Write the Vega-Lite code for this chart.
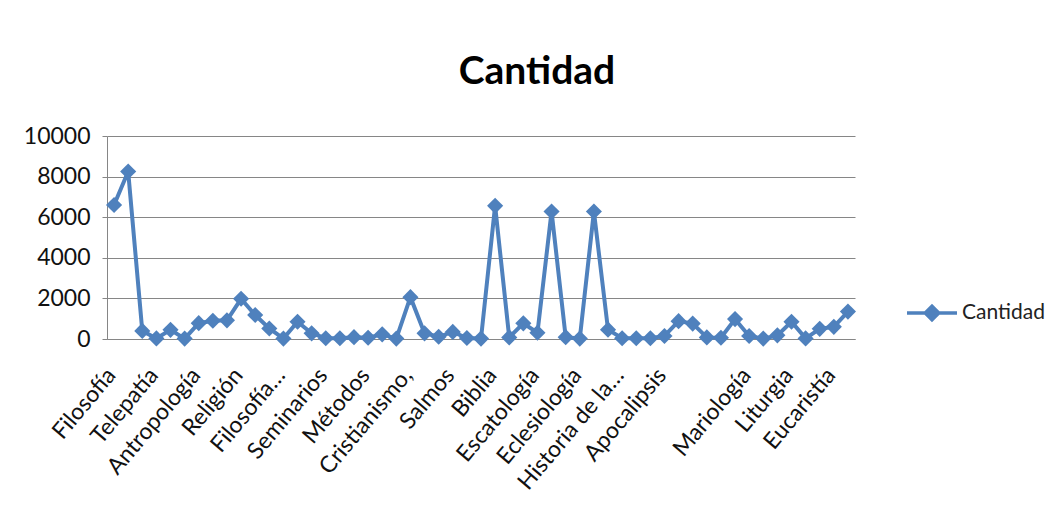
{
  "$schema": "https://vega.github.io/schema/vega-lite/v6.json",
  "width": 748,
  "height": 203,
  "autosize": "none",
  "padding": {"left": 107, "top": 136, "right": 208, "bottom": 173},
  "background": "white",
  "title": {"text": "Cantidad", "fontSize": 39, "font": "Lato", "fontWeight": "bold", "color": "#000000", "anchor": "middle", "dx": 56, "offset": 33},
  "data": {
    "values": [
      {"n": 0, "tema": "Filosofía", "cantidad": 6600},
      {"n": 1, "cantidad": 8250},
      {"n": 2, "cantidad": 400},
      {"n": 3, "tema": "Telepatía", "cantidad": 30},
      {"n": 4, "cantidad": 450},
      {"n": 5, "cantidad": 20},
      {"n": 6, "tema": "Antropología", "cantidad": 780},
      {"n": 7, "cantidad": 900},
      {"n": 8, "cantidad": 920},
      {"n": 9, "tema": "Religión", "cantidad": 1980},
      {"n": 10, "cantidad": 1180},
      {"n": 11, "cantidad": 520},
      {"n": 12, "tema": "Filosofía…", "cantidad": 20},
      {"n": 13, "cantidad": 850},
      {"n": 14, "cantidad": 280},
      {"n": 15, "tema": "Seminarios", "cantidad": 40},
      {"n": 16, "cantidad": 40},
      {"n": 17, "cantidad": 90},
      {"n": 18, "tema": "Métodos", "cantidad": 60},
      {"n": 19, "cantidad": 230},
      {"n": 20, "cantidad": 20},
      {"n": 21, "tema": "Cristianismo,", "cantidad": 2060},
      {"n": 22, "cantidad": 280},
      {"n": 23, "cantidad": 110},
      {"n": 24, "tema": "Salmos", "cantidad": 350},
      {"n": 25, "cantidad": 50},
      {"n": 26, "cantidad": 20},
      {"n": 27, "tema": "Biblia", "cantidad": 6560},
      {"n": 28, "cantidad": 80},
      {"n": 29, "cantidad": 770},
      {"n": 30, "tema": "Escatología", "cantidad": 310},
      {"n": 31, "cantidad": 6280},
      {"n": 32, "cantidad": 90},
      {"n": 33, "tema": "Eclesiología", "cantidad": 20},
      {"n": 34, "cantidad": 6280},
      {"n": 35, "cantidad": 460},
      {"n": 36, "tema": "Historia de la…", "cantidad": 40},
      {"n": 37, "cantidad": 40},
      {"n": 38, "cantidad": 40},
      {"n": 39, "tema": "Apocalipsis", "cantidad": 150},
      {"n": 40, "cantidad": 880},
      {"n": 41, "cantidad": 760},
      {"n": 42, "cantidad": 80},
      {"n": 43, "cantidad": 60},
      {"n": 44, "cantidad": 980},
      {"n": 45, "tema": "Mariología", "cantidad": 150},
      {"n": 46, "cantidad": 20},
      {"n": 47, "cantidad": 180},
      {"n": 48, "tema": "Liturgia", "cantidad": 850},
      {"n": 49, "cantidad": 30},
      {"n": 50, "cantidad": 500},
      {"n": 51, "tema": "Eucaristía", "cantidad": 600},
      {"n": 52, "cantidad": 1350}
    ]
  },
  "encoding": {
    "x": {
      "field": "n",
      "type": "ordinal",
      "sort": null,
      "scale": {"type": "point", "padding": 0.5},
      "axis": {
        "title": null,
        "values": [0, 3, 6, 9, 12, 15, 18, 21, 24, 27, 30, 33, 36, 39, 42, 45, 48, 51],
        "labelExpr": "['Filosofía','Telepatía','Antropología','Religión','Filosofía…','Seminarios','Métodos','Cristianismo,','Salmos','Biblia','Escatología','Eclesiología','Historia de la…','Apocalipsis','','Mariología','Liturgia','Eucaristía'][floor(datum.value/3)]",
        "labelAngle": -50,
        "labelFontSize": 23,
        "labelFont": "Lato",
        "labelColor": "#111111",
        "labelOverlap": false,
        "labelBound": false,
        "labelPadding": 32,
        "labelOffset": -3,
        "domain": true,
        "domainColor": "#868686",
        "ticks": false,
        "grid": false
      }
    },
    "y": {
      "field": "cantidad",
      "type": "quantitative",
      "scale": {"domain": [0, 10000], "nice": false},
      "axis": {
        "title": null,
        "values": [0, 2000, 4000, 6000, 8000, 10000],
        "format": "d",
        "labelFontSize": 23,
        "labelFont": "Lato",
        "labelColor": "#111111",
        "labelPadding": 12,
        "tickSize": 5,
        "tickColor": "#868686",
        "domainColor": "#868686",
        "gridColor": "#868686",
        "gridWidth": 1
      }
    },
    "color": {
      "datum": "Cantidad",
      "scale": {"range": ["#4F81BD"]},
      "legend": {
        "orient": "none",
        "legendX": 798,
        "legendY": 150,
        "title": null,
        "symbolType": "M -1 0 L 1 0 M -0.27 0 L 0 -0.27 L 0.27 0 L 0 0.27 Z",
        "symbolSize": 2500,
        "symbolStrokeWidth": 3.5,
        "symbolFillColor": "#4F81BD",
        "symbolStrokeColor": "#4F81BD",
        "labelFontSize": 21,
        "labelFont": "Lato",
        "labelColor": "#222222",
        "labelOffset": 3
      }
    }
  },
  "layer": [
    {"mark": {"type": "line", "strokeWidth": 4}},
    {"mark": {"type": "point", "shape": "diamond", "filled": true, "size": 260, "opacity": 1}}
  ],
  "config": {"view": {"stroke": null}}
}
